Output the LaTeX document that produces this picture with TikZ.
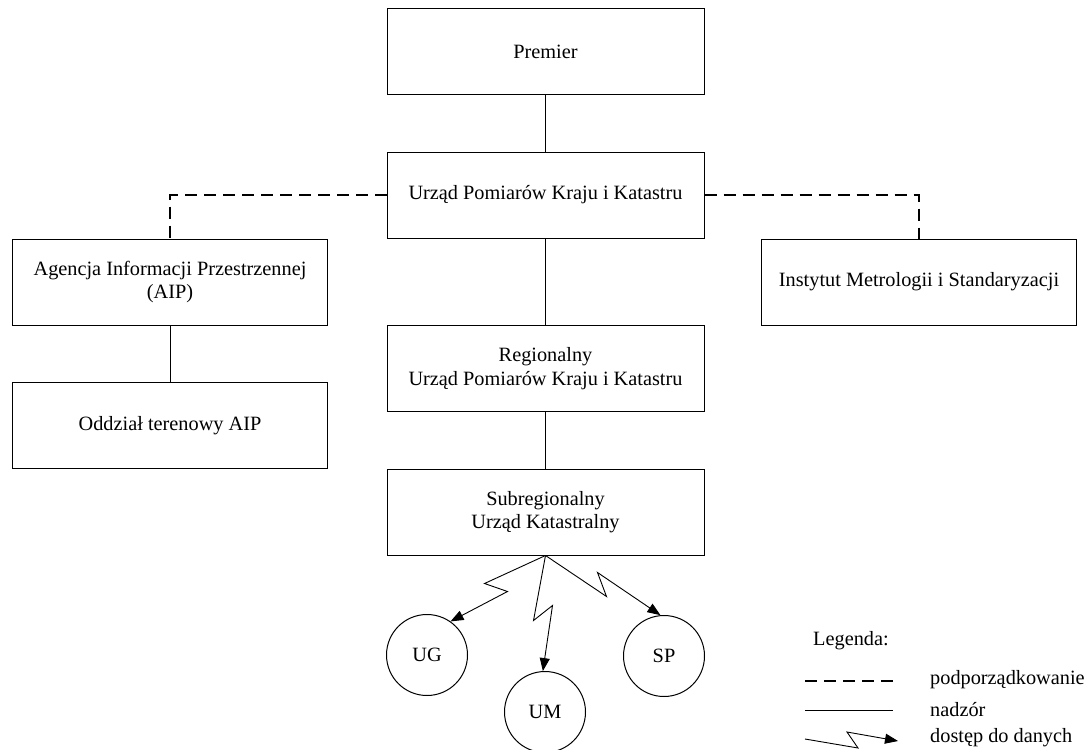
\documentclass[tikz,border=0pt]{standalone}
\usepackage{fontspec}
\setmainfont{Liberation Serif}
\usetikzlibrary{arrows.meta}
\begin{document}
\begin{tikzpicture}[x=1pt,y=-1pt,
  txt/.style={font=\fontsize{20.3}{23.5}\selectfont},
  box/.style={txt, draw, line width=1pt, minimum width=317pt, minimum height=86pt,
              align=center, inner sep=0pt},
  sidebox/.style={box, minimum width=315pt},
  office/.style={txt, draw, circle, line width=1pt, minimum size=81pt, inner sep=0pt},
  rule/.style={line width=1pt},
  subord/.style={line width=1.6pt, dash pattern=on 12pt off 7pt},
  access/.style={line width=0.9pt, -{Triangle[length=13pt,width=10pt]}},
  legtext/.style={txt, anchor=west, inner sep=0pt}
]
\useasboundingbox (0,0) rectangle (1086,749);

% organisation boxes
\node[box] (prem) at (545.5,52) {Premier};
\node[box] (gugk) at (545.5,195) {Urząd Pomiarów Kraju i Katastru};
\node[sidebox] (aip) at (170,282) {Agencja Informacji Przestrzennej\\(AIP)};
\node[sidebox] (ims) at (919,282) {Instytut Metrologii i Standaryzacji};
\node[box] (reg) at (545.5,368.5) {Regionalny\\Urząd Pomiarów Kraju i Katastru};
\node[sidebox] (odd) at (170,425.5) {Oddział terenowy AIP};
\node[box] (sub) at (545.5,512) {Subregionalny\\Urząd Katastralny};

% offices with data access
\node[office] (ug) at (427,655) {UG};
\node[office] (um) at (545,712) {UM};
\node[office] (sp) at (664,656) {SP};

% supervision
\draw[rule] (prem.south) -- (gugk.north);
\draw[rule] (gugk.south) -- (reg.north);
\draw[rule] (reg.south) -- (sub.north);
\draw[rule] (aip.south) -- (odd.north);

% subordination
\draw[subord] (gugk.west) -| (aip.north);
\draw[subord] (gugk.east) -| (ims.north);

% data access
\draw[access] (sub.south) -- ++(-61,28) -- ++(23,8) -- (ug.55);
\draw[access] (sub.south) -- ++(-12,65) -- ++(19,-15) -- (um.93);
\draw[access] (sub.south) -- ++(61,41) -- ++(-9,-24) -- (sp.95);

% legend
\node[legtext] (legtitle) at (813,641) {Legenda:};
\node[legtext] (legsub) at (930,680) {podporządkowanie};
\node[legtext] (legsup) at (930,710) {nadzór};
\node[legtext] (legacc) at (930,738) {dostęp do danych};
\coordinate (da) at (805,681);
\coordinate (db) at (893,681);
\coordinate (sa) at (805,710);
\coordinate (sb) at (893,710);
\coordinate (aa) at (805,739);
\coordinate (ab) at (898,741);
\draw[subord] (da) -- (db);
\draw[rule] (sa) -- (sb);
\draw[access] (aa) -- ++(53,9) -- ++(-11,-16) -- (ab);
\end{tikzpicture}
\end{document}
